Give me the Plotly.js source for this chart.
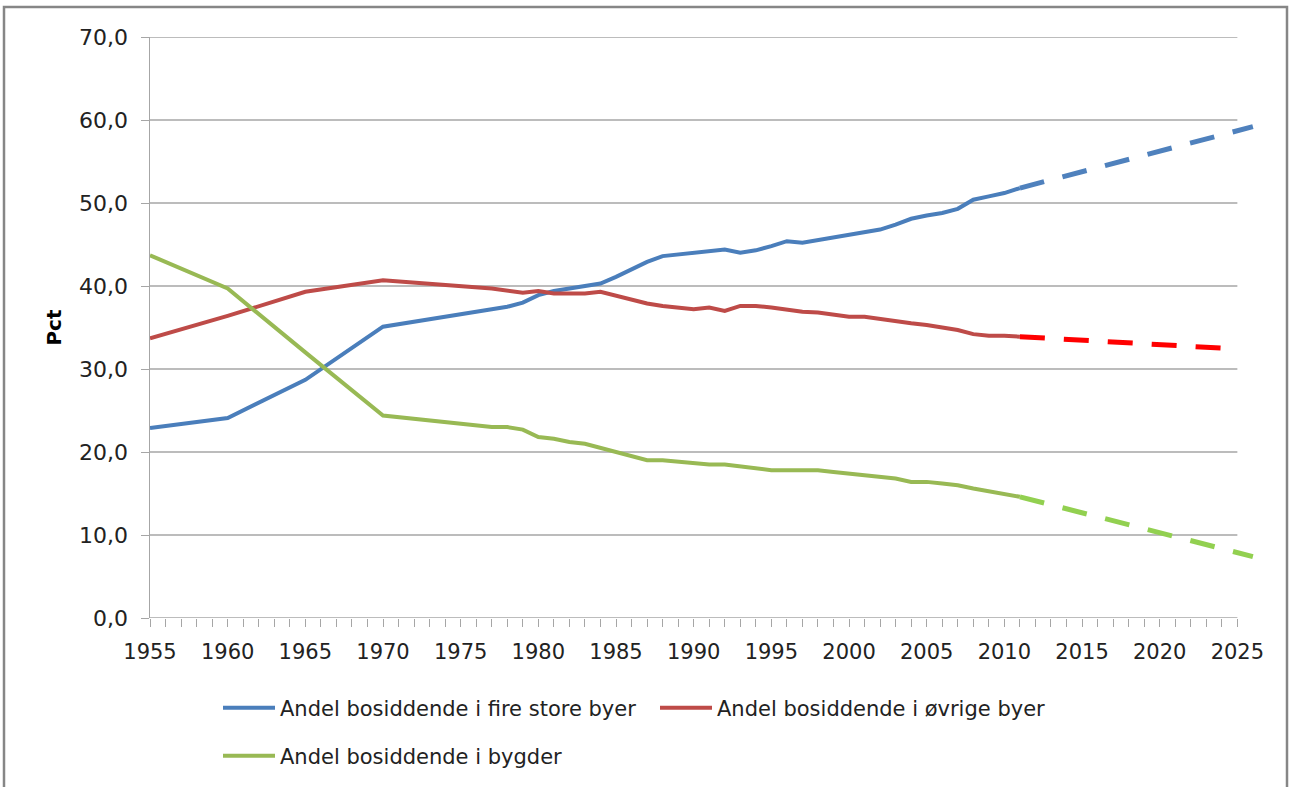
<!DOCTYPE html>
<html>
<head>
<meta charset="utf-8">
<script src="https://cdn.plot.ly/plotly-3.0.1.min.js"></script>
<style>
  html, body { margin: 0; padding: 0; background: #ffffff; }
  #chart { width: 1290px; height: 787px; }
</style>
</head>
<body>
<div id="chart"></div>
<script>
// Observed years
const years = [1955, 1960, 1965, 1970,
  1977, 1978, 1979, 1980, 1981, 1982, 1983, 1984, 1985, 1986, 1987, 1988, 1989,
  1990, 1991, 1992, 1993, 1994, 1995, 1996, 1997, 1998, 1999, 2000, 2001, 2002,
  2003, 2004, 2005, 2006, 2007, 2008, 2009, 2010, 2011];

// Andel bosiddende i fire store byer (pct)
const fireStoreByer = [22.9, 24.1, 28.7, 35.1,
  37.2, 37.5, 38.0, 38.9, 39.4, 39.7, 39.9, 40.3, 41.1, 42.0, 42.9, 43.6, 43.8,
  43.9, 44.1, 44.4, 44.0, 44.3, 44.8, 45.4, 45.2, 45.5, 45.8, 46.1, 46.4, 46.8,
  47.4, 48.1, 48.5, 48.8, 49.3, 50.4, 50.8, 51.2, 51.8];

// Andel bosiddende i øvrige byer (pct)
const ovrigeByer = [33.7, 36.4, 39.3, 40.7,
  39.7, 39.5, 39.2, 39.4, 39.1, 39.1, 39.1, 39.3, 38.8, 38.3, 37.9, 37.6, 37.4,
  37.2, 37.4, 37.0, 37.6, 37.6, 37.4, 37.1, 36.9, 36.8, 36.6, 36.3, 36.3, 36.0,
  35.8, 35.5, 35.3, 35.0, 34.7, 34.2, 34.0, 34.0, 33.9];

// Andel bosiddende i bygder (pct)
const bygder = [43.7, 39.7, 32.0, 24.4,
  23.0, 23.0, 22.7, 21.8, 21.6, 21.2, 21.0, 20.5, 20.0, 19.5, 19.0, 19.0, 18.8,
  18.7, 18.5, 18.5, 18.3, 18.0, 17.8, 17.8, 17.8, 17.8, 17.6, 17.4, 17.2, 17.0,
  16.8, 16.4, 16.4, 16.2, 16.0, 15.6, 15.3, 15.0, 14.6];

// Projections (dashed)
const projYearsBlue = [2011, 2026];
const projFireStoreByer = [51.8, 59.2];
const projYearsRed = [2011, 2025];
const projOvrigeByer = [33.9, 32.4];
const projYearsGreen = [2011, 2026];
const projBygder = [14.6, 7.4];

// Axis ticks
const axisYears = [];
for (let y = 1955; y <= 2025; y++) axisYears.push(y);
const axisLabels = axisYears.map(y => (y % 5 === 0 ? String(y) : ''));
const yGridValues = [10, 20, 30, 40, 50, 60, 70];

const seriesNames = ['Andel bosiddende i fire store byer', 'Andel bosiddende i øvrige byer', 'Andel bosiddende i bygder'];

const FONT = 'DejaVu Sans, Verdana, sans-serif';
const GRID = '#a6a6a6';
const TXT = '#222222';

const traces = [
  { x: years, y: fireStoreByer, name: seriesNames[0], mode: 'lines', legend: 'legend',
    line: { color: '#4a7ebb', width: 4 } },
  { x: years, y: ovrigeByer, name: seriesNames[1], mode: 'lines', legend: 'legend',
    line: { color: '#be4b48', width: 4 } },
  { x: years, y: bygder, name: seriesNames[2], mode: 'lines', legend: 'legend2',
    line: { color: '#98b954', width: 4 } },
  { x: projYearsBlue, y: projFireStoreByer, mode: 'lines', showlegend: false, hoverinfo: 'skip',
    line: { color: '#4f81bd', width: 5, dash: '25px,19px' } },
  { x: projYearsRed, y: projOvrigeByer, mode: 'lines', showlegend: false, hoverinfo: 'skip',
    line: { color: '#ff0000', width: 5, dash: '25px,19px' } },
  { x: projYearsGreen, y: projBygder, mode: 'lines', showlegend: false, hoverinfo: 'skip',
    line: { color: '#92d050', width: 5, dash: '25px,19px' } }
];

const shapes = yGridValues.map(v => ({
  type: 'line', xref: 'x', yref: 'y', x0: 1955, x1: 2025, y0: v, y1: v,
  line: { color: GRID, width: 1.5 }, layer: 'below'
}));
// x axis line
shapes.push({ type: 'line', xref: 'x', yref: 'y', x0: 1955, x1: 2025, y0: 0, y1: 0,
  line: { color: GRID, width: 1.5 }, layer: 'below' });
// outer frame
shapes.push({ type: 'rect', xref: 'paper', yref: 'paper',
  x0: (4 - 150) / 1106, x1: (1287 - 150) / 1106,
  y0: -0.5, y1: 1 + 30 / 581,
  line: { color: '#868686', width: 2.5 }, fillcolor: 'rgba(0,0,0,0)', layer: 'below' });

const layout = {
  width: 1290, height: 787,
  margin: { l: 150, r: 34, t: 37, b: 169 },
  paper_bgcolor: '#ffffff', plot_bgcolor: '#ffffff',
  font: { family: FONT, size: 21, color: TXT },
  separators: ', ',
  showlegend: true,
  xaxis: {
    type: 'linear', range: [1955, 2026.2], fixedrange: true,
    tickmode: 'array', tickvals: axisYears, ticktext: axisLabels,
    ticks: 'outside', ticklen: 8, tickcolor: GRID, tickwidth: 1,
    showgrid: false, zeroline: false, showline: false,
    ticklabelstandoff: 7,
    tickfont: { family: FONT, size: 21, color: TXT }
  },
  yaxis: {
    range: [0, 70], dtick: 10, tick0: 0, fixedrange: true,
    tickformat: '.1f',
    ticks: 'outside', ticklen: 8, tickcolor: GRID, tickwidth: 1,
    showgrid: false, zeroline: false, showline: true, linecolor: GRID, linewidth: 1.5,
    ticklabelstandoff: 8,
    tickfont: { family: FONT, size: 22, color: TXT },
    title: { text: '<b>Pct</b>', font: { family: FONT, size: 20, color: '#000000' }, standoff: 12 }
  },
  legend: {
    orientation: 'h', xref: 'container', yref: 'container',
    x: 218 / 1290, y: 1 - 708 / 787, xanchor: 'left', yanchor: 'middle',
    itemwidth: 52, entrywidth: 370, entrywidthmode: 'pixels',
    font: { family: FONT, size: 21, color: TXT },
    bgcolor: 'rgba(0,0,0,0)'
  },
  legend2: {
    orientation: 'h', xref: 'container', yref: 'container',
    x: 218 / 1290, y: 1 - 756 / 787, xanchor: 'left', yanchor: 'middle',
    itemwidth: 52,
    font: { family: FONT, size: 21, color: TXT },
    bgcolor: 'rgba(0,0,0,0)'
  },
  shapes: shapes
};

Plotly.newPlot('chart', traces, layout, { staticPlot: true, displayModeBar: false });
</script>
</body>
</html>
